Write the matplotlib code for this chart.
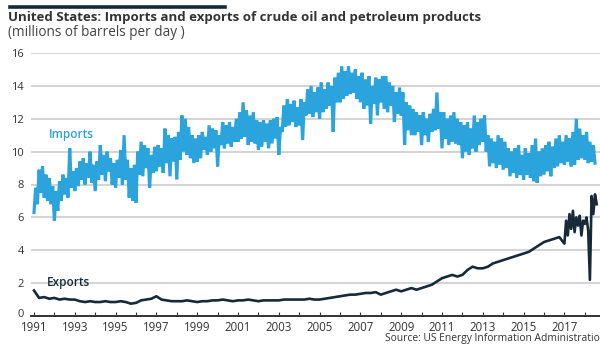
import numpy as np
import matplotlib
matplotlib.use("Agg")
import matplotlib.pyplot as plt
from matplotlib.transforms import ScaledTranslation

plt.rcParams['font.family'] = ['Open Sans', 'DejaVu Sans']

# ---- data (millions of barrels per day) ----
# Imports: 12 readings per year starting 1991.0
imports = [
    6.3, 7.8, 6.8, 8.9, 7.5, 9.1, 7.2, 8.6, 7.0, 8.4, 6.8, 7.9,      # 1991
    5.8, 7.6, 6.4, 8.2, 7.0, 8.6, 7.4, 8.4, 7.2, 10.2, 7.8, 8.8,     # 1992
    7.6, 9.0, 7.9, 9.4, 8.3, 9.6, 8.0, 9.3, 8.4, 10.0, 8.1, 9.2,     # 1993
    7.6, 9.4, 8.3, 10.4, 8.6, 9.8, 8.2, 10.0, 8.8, 9.6, 8.0, 9.3,    # 1994
    7.8, 9.5, 8.4, 10.1, 8.0, 11.0, 8.3, 9.5, 7.2, 9.0, 7.0, 9.2,    # 1995
    6.9, 10.0, 8.6, 10.6, 8.5, 10.4, 9.0, 10.2, 7.8, 9.8, 8.7, 10.3, # 1996
    8.8, 10.4, 9.1, 10.2, 8.7, 11.4, 9.3, 11.0, 8.5, 10.8, 9.4, 10.9, # 1997
    8.3, 11.2, 9.5, 12.2, 10.0, 12.0, 9.8, 11.5, 9.6, 11.0, 9.3, 10.8, # 1998
    9.4, 11.0, 9.6, 11.2, 10.1, 10.9, 9.8, 11.6, 10.0, 11.4, 10.2, 11.3, # 1999
    9.1, 11.0, 10.4, 11.8, 10.2, 11.6, 10.5, 11.8, 10.3, 11.5, 10.6, 12.0, # 2000
    10.6, 12.4, 10.8, 13.0, 10.9, 12.5, 10.4, 12.2, 10.6, 12.4, 10.5, 11.9, # 2001
    10.1, 11.8, 10.3, 11.9, 10.6, 11.7, 10.2, 11.9, 10.5, 12.0, 10.8, 12.1, # 2002
    9.8, 11.5, 11.2, 12.8, 11.5, 13.2, 11.6, 12.9, 11.8, 13.1, 11.5, 12.7, # 2003
    11.6, 13.2, 10.7, 13.0, 12.2, 13.8, 12.3, 14.0, 12.1, 13.6, 12.4, 13.9, # 2004
    12.0, 14.2, 12.4, 13.8, 12.6, 14.2, 12.8, 14.0, 11.2, 14.5, 13.0, 14.8, # 2005
    13.0, 15.2, 13.2, 14.9, 13.4, 15.2, 13.5, 14.8, 13.6, 15.0, 13.2, 14.6, # 2006
    13.0, 14.8, 12.6, 14.4, 12.8, 14.6, 11.7, 14.0, 12.9, 14.5, 12.2, 14.4, # 2007
    13.0, 14.6, 12.6, 14.6, 12.4, 14.2, 12.8, 14.0, 11.8, 13.6, 12.3, 13.9, # 2008
    12.2, 13.6, 10.4, 13.0, 11.3, 12.8, 11.0, 12.6, 11.0, 12.4, 11.2, 12.2, # 2009
    10.4, 12.4, 11.0, 12.0, 10.6, 12.3, 11.2, 12.6, 11.3, 13.6, 11.4, 12.4, # 2010
    10.2, 12.4, 10.8, 12.0, 10.4, 12.2, 10.6, 12.4, 10.5, 12.0, 10.4, 11.8, # 2011
    9.6, 11.6, 10.0, 11.8, 9.8, 11.4, 10.2, 12.2, 10.0, 11.8, 10.4, 12.0, # 2012
    10.6, 12.2, 10.0, 11.0, 9.1, 10.8, 9.3, 10.6, 9.0, 11.0, 9.2, 10.8, # 2013
    8.9, 10.6, 9.0, 10.2, 8.5, 10.0, 8.7, 10.2, 8.4, 10.4, 8.6, 9.8,   # 2014
    8.3, 10.2, 8.6, 9.9, 8.4, 10.4, 8.2, 10.8, 8.1, 10.0, 8.5, 10.2,   # 2015
    8.6, 10.4, 8.8, 10.6, 8.5, 10.3, 9.0, 10.8, 9.1, 11.0, 9.3, 10.6,  # 2016
    9.2, 11.0, 9.4, 10.8, 9.1, 11.2, 9.2, 12.0, 9.5, 11.4, 9.6, 11.0,  # 2017
    9.5, 11.2, 9.3, 10.6, 9.4, 10.4, 9.3,                              # 2018
]
imports_start = 1991.0
imports_per_year = 12

# Exports: 4 readings per year 1991-2016
exports_q = [
    1.55, 1.10, 1.15, 1.05,  # 1991
    1.10, 1.00, 1.05, 1.00,  # 1992
    1.00, 0.90, 0.85, 0.90,  # 1993
    0.85, 0.85, 0.90, 0.85,  # 1994
    0.85, 0.90, 0.85, 0.75,  # 1995
    0.80, 0.95, 1.00, 1.05,  # 1996
    1.20, 1.00, 0.95, 0.90,  # 1997
    0.90, 0.90, 0.95, 0.90,  # 1998
    0.85, 0.90, 0.90, 0.95,  # 1999
    0.95, 1.00, 0.95, 0.90,  # 2000
    0.95, 0.95, 1.00, 0.95,  # 2001
    0.90, 0.95, 0.95, 0.95,  # 2002
    0.95, 1.00, 1.00, 1.00,  # 2003
    1.00, 1.00, 1.05, 1.00,  # 2004
    1.00, 1.05, 1.10, 1.15,  # 2005
    1.20, 1.25, 1.30, 1.30,  # 2006
    1.35, 1.40, 1.40, 1.45,  # 2007
    1.30, 1.40, 1.50, 1.60,  # 2008
    1.50, 1.60, 1.70, 1.60,  # 2009
    1.70, 1.80, 1.90, 2.10,  # 2010
    2.30, 2.40, 2.50, 2.40,  # 2011
    2.50, 2.80, 3.00, 2.90,  # 2012
    2.90, 3.00, 3.20, 3.30,  # 2013
    3.40, 3.50, 3.60, 3.70,  # 2014
    3.80, 3.90, 4.10, 4.30,  # 2015
    4.50, 4.60, 4.70, 4.80,  # 2016
]
exports_q_start = 1991.0
# Exports: 12 readings per year from 2017
exports_m = [
    4.4, 5.8, 4.9, 6.2, 5.3, 6.4, 5.1, 6.0, 5.5, 6.1, 4.9, 5.8,  # 2017
    5.6, 6.0, 5.2, 2.2, 7.3, 6.2, 7.4, 6.8,                      # 2018
]
exports_m_start = 2017.0

yticks = [0, 2, 4, 6, 8, 10, 12, 14, 16]
xlabels = list(range(1991, 2018, 2))

title = "United States: Imports and exports of crude oil and petroleum products"
subtitle = "(millions of barrels per day )"
source = "Source: US Energy Information Administration"

blue = "#2ba3dc"
dark = "#172a38"

# ---- figure ----
fig = plt.figure(figsize=(6.0, 3.48), dpi=100)
W, H = 600, 348
left_px, right_px = 31, 600
y0_px, y16_px = 316, 53
ax = fig.add_axes([left_px / W, 1 - y0_px / H, (right_px - left_px) / W, (y0_px - y16_px) / H])

x_imp = imports_start + np.arange(len(imports)) / imports_per_year
x_exq = exports_q_start + np.arange(len(exports_q)) / 4
x_exm = exports_m_start + np.arange(len(exports_m)) / 12
x_exp = np.concatenate([x_exq, x_exm])
exports = np.concatenate([exports_q, exports_m])

ax.plot(x_imp, imports, color=blue, lw=2.3, solid_joinstyle='miter', zorder=3)
ax.plot(x_exp, exports, color=dark, lw=1.9, zorder=3)

ax.set_ylim(0, 16)
ax.set_xlim(1991 + (left_px - 34) / 20.4, 1991 + (right_px - 34) / 20.4)

for s in ax.spines.values():
    s.set_visible(False)
ax.axhline(0, color="#333333", lw=1.4, zorder=4, clip_on=False)

ax.set_yticks(yticks)
ax.set_yticklabels([str(v) for v in yticks])
ax.yaxis.grid(True, color="#d0d0d0", lw=1.3)
ax.set_axisbelow(True)
ax.tick_params(axis='y', length=0, pad=5, labelsize=8.0, labelcolor="#333333")
# lift the "0" label a little so it clears the first year label
ylabs = ax.get_yticklabels()
ylabs[0].set_transform(ylabs[0].get_transform() + ScaledTranslation(0, 2 / 72, fig.dpi_scale_trans))

ax.set_xticks(np.arange(1991, 2019))
ax.set_xticklabels([str(y) if y in xlabels else "" for y in range(1991, 2019)])
ax.tick_params(axis='x', length=3, width=0.8, direction='in', color="#333333",
               pad=3.5, labelsize=8.3, labelcolor="#333333")

ax.text(1991.75, 10.8, "Imports", color=blue, fontsize=8.5, fontweight='semibold')
ax.text(1991.65, 1.85, "Exports", color=dark, fontsize=8.5, fontweight='semibold')

# header
fig.add_artist(plt.Line2D([10 / W, 225 / W], [1 - 6.5 / H, 1 - 6.5 / H], color=dark, lw=2.6))
fig.text(8 / W, 1 - 17 / H, title, fontsize=9.5, fontweight='bold', color="#333333", va='center')
fig.text(8 / W, 1 - 32 / H, subtitle, fontsize=9.8, color="#444444", va='center')
fig.text(385 / W, 1 - 339 / H, source, fontsize=7.4, color="#333333", va='center')

fig.savefig("out.png", dpi=100)
